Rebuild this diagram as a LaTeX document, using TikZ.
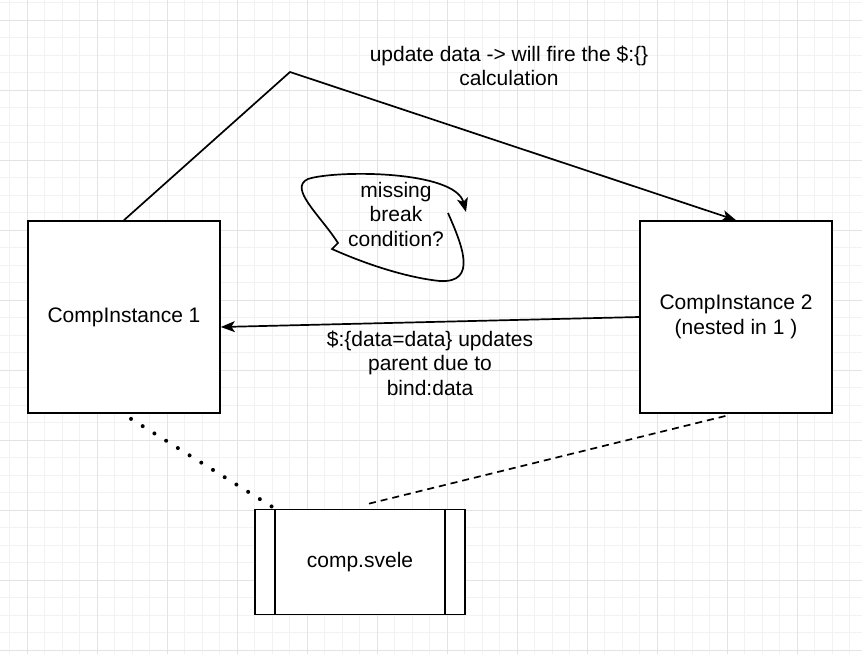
\documentclass[tikz,border=0pt]{standalone}
\usepackage{fontspec}
\setmainfont{Liberation Sans}
\usetikzlibrary{calc}
\usetikzlibrary{arrows.meta}

\begin{document}
\begin{tikzpicture}[x=1pt,y=-1pt,
  font=\fontsize{21}{24.5}\selectfont,
  box/.style={draw,fill=white,line width=1.7pt,align=center,inner sep=0pt},
  lbl/.style={align=center,inner sep=0pt},
  arr/.style={line width=1.7pt,-{Stealth[length=14pt,width=11pt,inset=3.5pt]}}]

\useasboundingbox (0,0) rectangle (862,654);
\fill[white] (0,0) rectangle (862,654);

% background grid
\foreach \i in {0,...,48} \draw[black!5,line width=1pt] ({9.7+17.5*\i},0) --++(0,654);
\foreach \i in {0,...,37} \draw[black!5,line width=1pt] (0,{2.5+17.5*\i}) --++(862,0);
\foreach \i in {0,...,11} \draw[black!11,line width=1pt] ({27.2+70*\i},0) --++(0,654);
\foreach \i in {0,...,9} \draw[black!11,line width=1pt] (0,{20+70*\i}) --++(862,0);

\node[box,minimum width=192pt,minimum height=192pt] (inst1) at (124,317) {CompInstance 1};
\node[box,minimum width=192pt,minimum height=192pt] (inst2) at (736,317) {CompInstance 2\\(nested in 1 )};
\node[box,minimum width=210pt,minimum height=105pt] (svele) at (360,562) {comp.svele};
\draw[line width=1.7pt] ([xshift=21pt]svele.north west) -- ([xshift=21pt]svele.south west);
\draw[line width=1.7pt] ([xshift=-21pt]svele.north east) -- ([xshift=-21pt]svele.south east);

\coordinate (peak) at (290,72);
\draw[arr] (inst1.north) -- (peak) -- (inst2.north);
\node[lbl] (firelbl) at (509,66) {update data -> will fire the \$:\{\}\\calculation};

\draw[arr] (inst2.west) -- ([yshift=-10pt]inst1.east);
\node[lbl] (bindlbl) at (430,363) {\$:\{data=data\} updates\\parent due to\\bind:data};

% the loop
\node[lbl] (looplbl) at (396,214) {missing\\break\\condition?};
\draw[arr] (448,213) .. controls (462,245) and (478,283) .. (440,281)
  .. controls (410,278) and (370,266) .. (332,249) -- (338,243)
  .. controls (320,215) and (288,188) .. (308,179)
  .. controls (335,170) and (455,170) .. (466,212);

\draw[line width=4pt,line cap=round,dash pattern=on 0pt off 13.8pt] ([xshift=7pt,yshift=-5pt]inst1.south) -- ([xshift=21pt]svele.north west);
\draw[line width=1.7pt,dash pattern=on 7pt off 5pt] ([xshift=9pt,yshift=5pt]svele.north) -- ([xshift=-6pt,yshift=-1pt]inst2.south);
\end{tikzpicture}
\end{document}
